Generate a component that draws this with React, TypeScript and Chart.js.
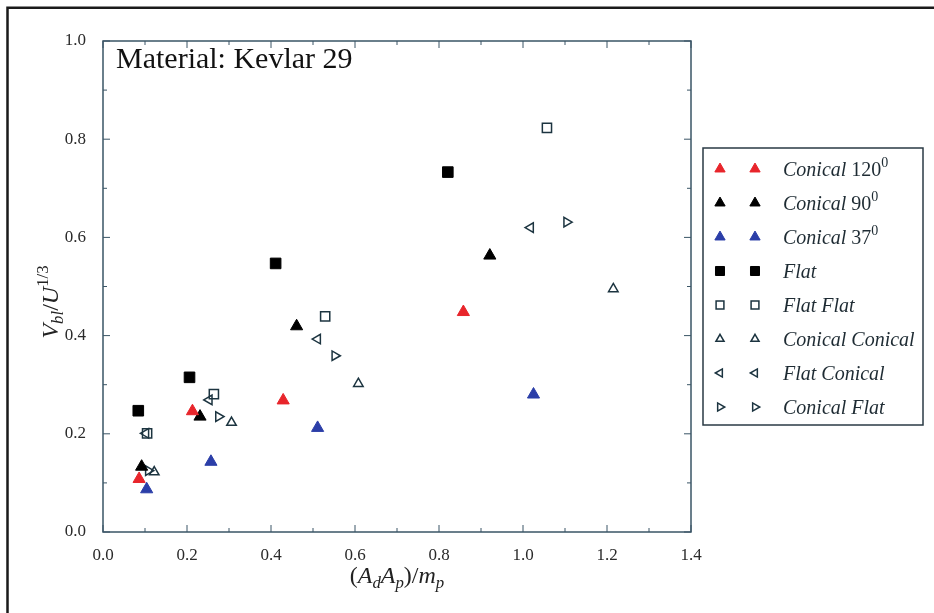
import React, { useEffect, useRef } from 'react';
import { Chart, registerables } from 'chart.js';
import { drawPoint } from 'chart.js/helpers';

Chart.register(...registerables);

// ---- data ----
const xTicks = [0, 0.2, 0.4, 0.6, 0.8, 1.0, 1.2, 1.4];
const yTicks = [0, 0.2, 0.4, 0.6, 0.8, 1.0];

const conical120X = [0.086, 0.213, 0.429, 0.858];
const conical120Y = [0.108, 0.246, 0.268, 0.448];
const conical90X = [0.092, 0.231, 0.461, 0.921];
const conical90Y = [0.133, 0.235, 0.419, 0.563];
const conical37X = [0.104, 0.257, 0.511, 1.025];
const conical37Y = [0.087, 0.143, 0.212, 0.28];
const flatX = [0.084, 0.206, 0.411, 0.821];
const flatY = [0.247, 0.315, 0.547, 0.733];
const flatFlatX = [0.105, 0.264, 0.529, 1.057];
const flatFlatY = [0.201, 0.281, 0.439, 0.823];
const conicalConicalX = [0.122, 0.306, 0.608, 1.215];
const conicalConicalY = [0.122, 0.223, 0.302, 0.495];
const flatConicalX = [0.102, 0.253, 0.511, 1.018];
const flatConicalY = [0.201, 0.269, 0.393, 0.62];
const conicalFlatX = [0.108, 0.275, 0.552, 1.104];
const conicalFlatY = [0.125, 0.235, 0.359, 0.631];

const seriesNames = [
  'Conical 120', 'Conical 90', 'Conical 37', 'Flat',
  'Flat Flat', 'Conical Conical', 'Flat Conical', 'Conical Flat',
];

const FONT = '"Liberation Serif", "Times New Roman", serif';
const RED = '#e8252b';
const BLUE = '#2b3ea8';
const BLACK = '#000000';
const OPEN = '#1c3440';
const AXIS = '#3a5566';

type Seg = { t: string; it?: boolean; sub?: boolean; sup?: boolean };

const styles = [
  { ps: 'triangle', rot: 0, r: 7, fill: RED, stroke: RED, bw: 1 },
  { ps: 'triangle', rot: 0, r: 7, fill: BLACK, stroke: BLACK, bw: 1 },
  { ps: 'triangle', rot: 0, r: 7, fill: BLUE, stroke: BLUE, bw: 1 },
  { ps: 'rect', rot: 0, r: 7.5, fill: BLACK, stroke: BLACK, bw: 1 },
  { ps: 'rect', rot: 0, r: 6.5, fill: 'rgba(0,0,0,0)', stroke: OPEN, bw: 1.5 },
  { ps: 'triangle', rot: 0, r: 5.5, fill: 'rgba(0,0,0,0)', stroke: OPEN, bw: 1.5 },
  { ps: 'triangle', rot: -90, r: 5.5, fill: 'rgba(0,0,0,0)', stroke: OPEN, bw: 1.5 },
  { ps: 'triangle', rot: 90, r: 5.5, fill: 'rgba(0,0,0,0)', stroke: OPEN, bw: 1.5 },
];

const xs = [conical120X, conical90X, conical37X, flatX, flatFlatX, conicalConicalX, flatConicalX, conicalFlatX];
const ys = [conical120Y, conical90Y, conical37Y, flatY, flatFlatY, conicalConicalY, flatConicalY, conicalFlatY];

function legendSegs(name: string): Seg[] {
  const m = name.match(/^(.*) (\d+)$/);
  if (m) return [{ t: m[1] + ' ', it: true }, { t: m[2] }, { t: '0', sup: true }];
  return [{ t: name, it: true }];
}

function segFont(s: Seg, size: number) {
  const sz = s.sub || s.sup ? size * 0.7 : size;
  return `${s.it ? 'italic ' : ''}${sz}px ${FONT}`;
}

function richWidth(ctx: CanvasRenderingContext2D, segs: Seg[], size: number) {
  let w = 0;
  for (const s of segs) {
    ctx.font = segFont(s, size);
    w += ctx.measureText(s.t).width;
  }
  return w;
}

function drawRich(ctx: CanvasRenderingContext2D, segs: Seg[], x: number, y: number, size: number, align: 'left' | 'center') {
  let cx = align === 'center' ? x - richWidth(ctx, segs, size) / 2 : x;
  ctx.textAlign = 'left';
  ctx.textBaseline = 'alphabetic';
  for (const s of segs) {
    ctx.font = segFont(s, size);
    const dy = s.sub ? size * 0.22 : s.sup ? -size * 0.42 : 0;
    ctx.fillText(s.t, cx, y + dy);
    cx += ctx.measureText(s.t).width;
  }
}

const decorPlugin = {
  id: 'decor',
  beforeDraw(chart: any) {
    const ctx = chart.ctx as CanvasRenderingContext2D;
    ctx.save();
    ctx.fillStyle = '#ffffff';
    ctx.fillRect(0, 0, chart.width, chart.height);
    // outer figure frame (top and left visible)
    ctx.strokeStyle = '#1a1a1a';
    ctx.lineWidth = 2.5;
    ctx.beginPath();
    ctx.moveTo(7.5, chart.height + 2);
    ctx.lineTo(7.5, 7.8);
    ctx.lineTo(chart.width + 2, 7.8);
    ctx.stroke();
    ctx.restore();
  },
  afterDraw(chart: any) {
    const ctx = chart.ctx as CanvasRenderingContext2D;
    const a = chart.chartArea;
    const sx = chart.scales.x;
    const sy = chart.scales.y;
    ctx.save();
    // plot frame
    ctx.strokeStyle = AXIS;
    ctx.lineWidth = 1.5;
    ctx.strokeRect(a.left, a.top, a.right - a.left, a.bottom - a.top);
    // inward ticks, major and minor
    ctx.lineWidth = 1;
    ctx.beginPath();
    for (let i = 0; i <= 14; i++) {
      const v = i / 10;
      const len = i % 2 === 0 ? 7 : 4;
      const px = sx.getPixelForValue(v);
      ctx.moveTo(px, a.bottom); ctx.lineTo(px, a.bottom - len);
      ctx.moveTo(px, a.top); ctx.lineTo(px, a.top + len);
    }
    for (let i = 0; i <= 10; i++) {
      const v = i / 10;
      const len = i % 2 === 0 ? 7 : 4;
      const py = sy.getPixelForValue(v);
      ctx.moveTo(a.left, py); ctx.lineTo(a.left + len, py);
      ctx.moveTo(a.right, py); ctx.lineTo(a.right - len, py);
    }
    ctx.stroke();

    // annotation
    ctx.fillStyle = '#111';
    ctx.font = `30px ${FONT}`;
    ctx.textAlign = 'left';
    ctx.textBaseline = 'alphabetic';
    ctx.fillText('Material: Kevlar 29', 116, 68);

    // axis titles
    ctx.fillStyle = '#222';
    const xTitle: Seg[] = [
      { t: '(' }, { t: 'A', it: true }, { t: 'd', it: true, sub: true },
      { t: 'A', it: true }, { t: 'p', it: true, sub: true }, { t: ')/' },
      { t: 'm', it: true }, { t: 'p', it: true, sub: true },
    ];
    drawRich(ctx, xTitle, (a.left + a.right) / 2, 583, 24, 'center');
    const yTitle: Seg[] = [
      { t: 'V', it: true }, { t: 'bl', it: true, sub: true }, { t: '/' },
      { t: 'U', it: true }, { t: '1/3', sup: true },
    ];
    ctx.save();
    ctx.translate(58, 302);
    ctx.rotate(-Math.PI / 2);
    drawRich(ctx, yTitle, 0, 0, 24, 'center');
    ctx.restore();

    // legend
    const lx = 703, ly = 148, lw = 220, lh = 277;
    ctx.fillStyle = '#ffffff';
    ctx.fillRect(lx, ly, lw, lh);
    ctx.strokeStyle = '#2a3a44';
    ctx.lineWidth = 1.5;
    ctx.strokeRect(lx, ly, lw, lh);
    seriesNames.forEach((name, i) => {
      const st = styles[i];
      const cy = 169 + i * 34;
      const opts = { pointStyle: st.ps, rotation: st.rot, radius: st.r * 0.85, borderWidth: st.bw };
      for (const mx of [720, 755]) {
        ctx.fillStyle = st.fill;
        ctx.strokeStyle = st.stroke;
        ctx.lineWidth = st.bw;
        drawPoint(ctx, opts as any, mx, cy);
      }
      ctx.fillStyle = '#1e2b33';
      drawRich(ctx, legendSegs(name), 783, cy + 6.5, 20, 'left');
    });
    ctx.restore();
  },
};

export default function App() {
  const ref = useRef<HTMLCanvasElement>(null);
  useEffect(() => {
    document.body.style.margin = '0';
    const canvas = ref.current!;
    const datasets = seriesNames.map((name, i) => ({
      label: name,
      data: xs[i].map((x, j) => ({ x, y: ys[i][j] })),
      showLine: false,
      pointStyle: styles[i].ps,
      pointRotation: styles[i].rot,
      pointRadius: styles[i].r,
      pointHoverRadius: styles[i].r,
      pointBackgroundColor: styles[i].fill,
      pointBorderColor: styles[i].stroke,
      pointBorderWidth: styles[i].bw,
      backgroundColor: styles[i].fill,
      borderColor: styles[i].stroke,
    }));
    const chart = new Chart(canvas, {
      type: 'scatter',
      data: { datasets } as any,
      options: {
        animation: false,
        responsive: false,
        devicePixelRatio: 1,
        layout: { padding: { left: 0, top: 41, right: 243, bottom: 0 } },
        plugins: { legend: { display: false }, tooltip: { enabled: false }, title: { display: false } },
        scales: {
          x: {
            type: 'linear',
            min: 0,
            max: 1.4,
            afterBuildTicks: (s: any) => { s.ticks = xTicks.map((v) => ({ value: v })); },
            afterFit: (s: any) => { s.height = 81; },
            ticks: {
              callback: (v: any) => Number(v).toFixed(1),
              font: { family: FONT, size: 17 },
              color: '#2a2a2a',
              padding: 5,
              maxRotation: 0,
              autoSkip: false,
            },
            grid: { display: false },
            border: { display: false },
          },
          y: {
            type: 'linear',
            min: 0,
            max: 1,
            afterBuildTicks: (s: any) => { s.ticks = yTicks.map((v) => ({ value: v })); },
            afterFit: (s: any) => { s.width = 103; },
            ticks: {
              callback: (v: any) => Number(v).toFixed(1),
              font: { family: FONT, size: 17 },
              color: '#2a2a2a',
              padding: 9,
              autoSkip: false,
            },
            grid: { display: false },
            border: { display: false },
          },
        },
      } as any,
      plugins: [decorPlugin],
    });
    return () => chart.destroy();
  }, []);
  return <canvas ref={ref} width={934} height={613} style={{ display: 'block', width: 934, height: 613 }} />;
}
